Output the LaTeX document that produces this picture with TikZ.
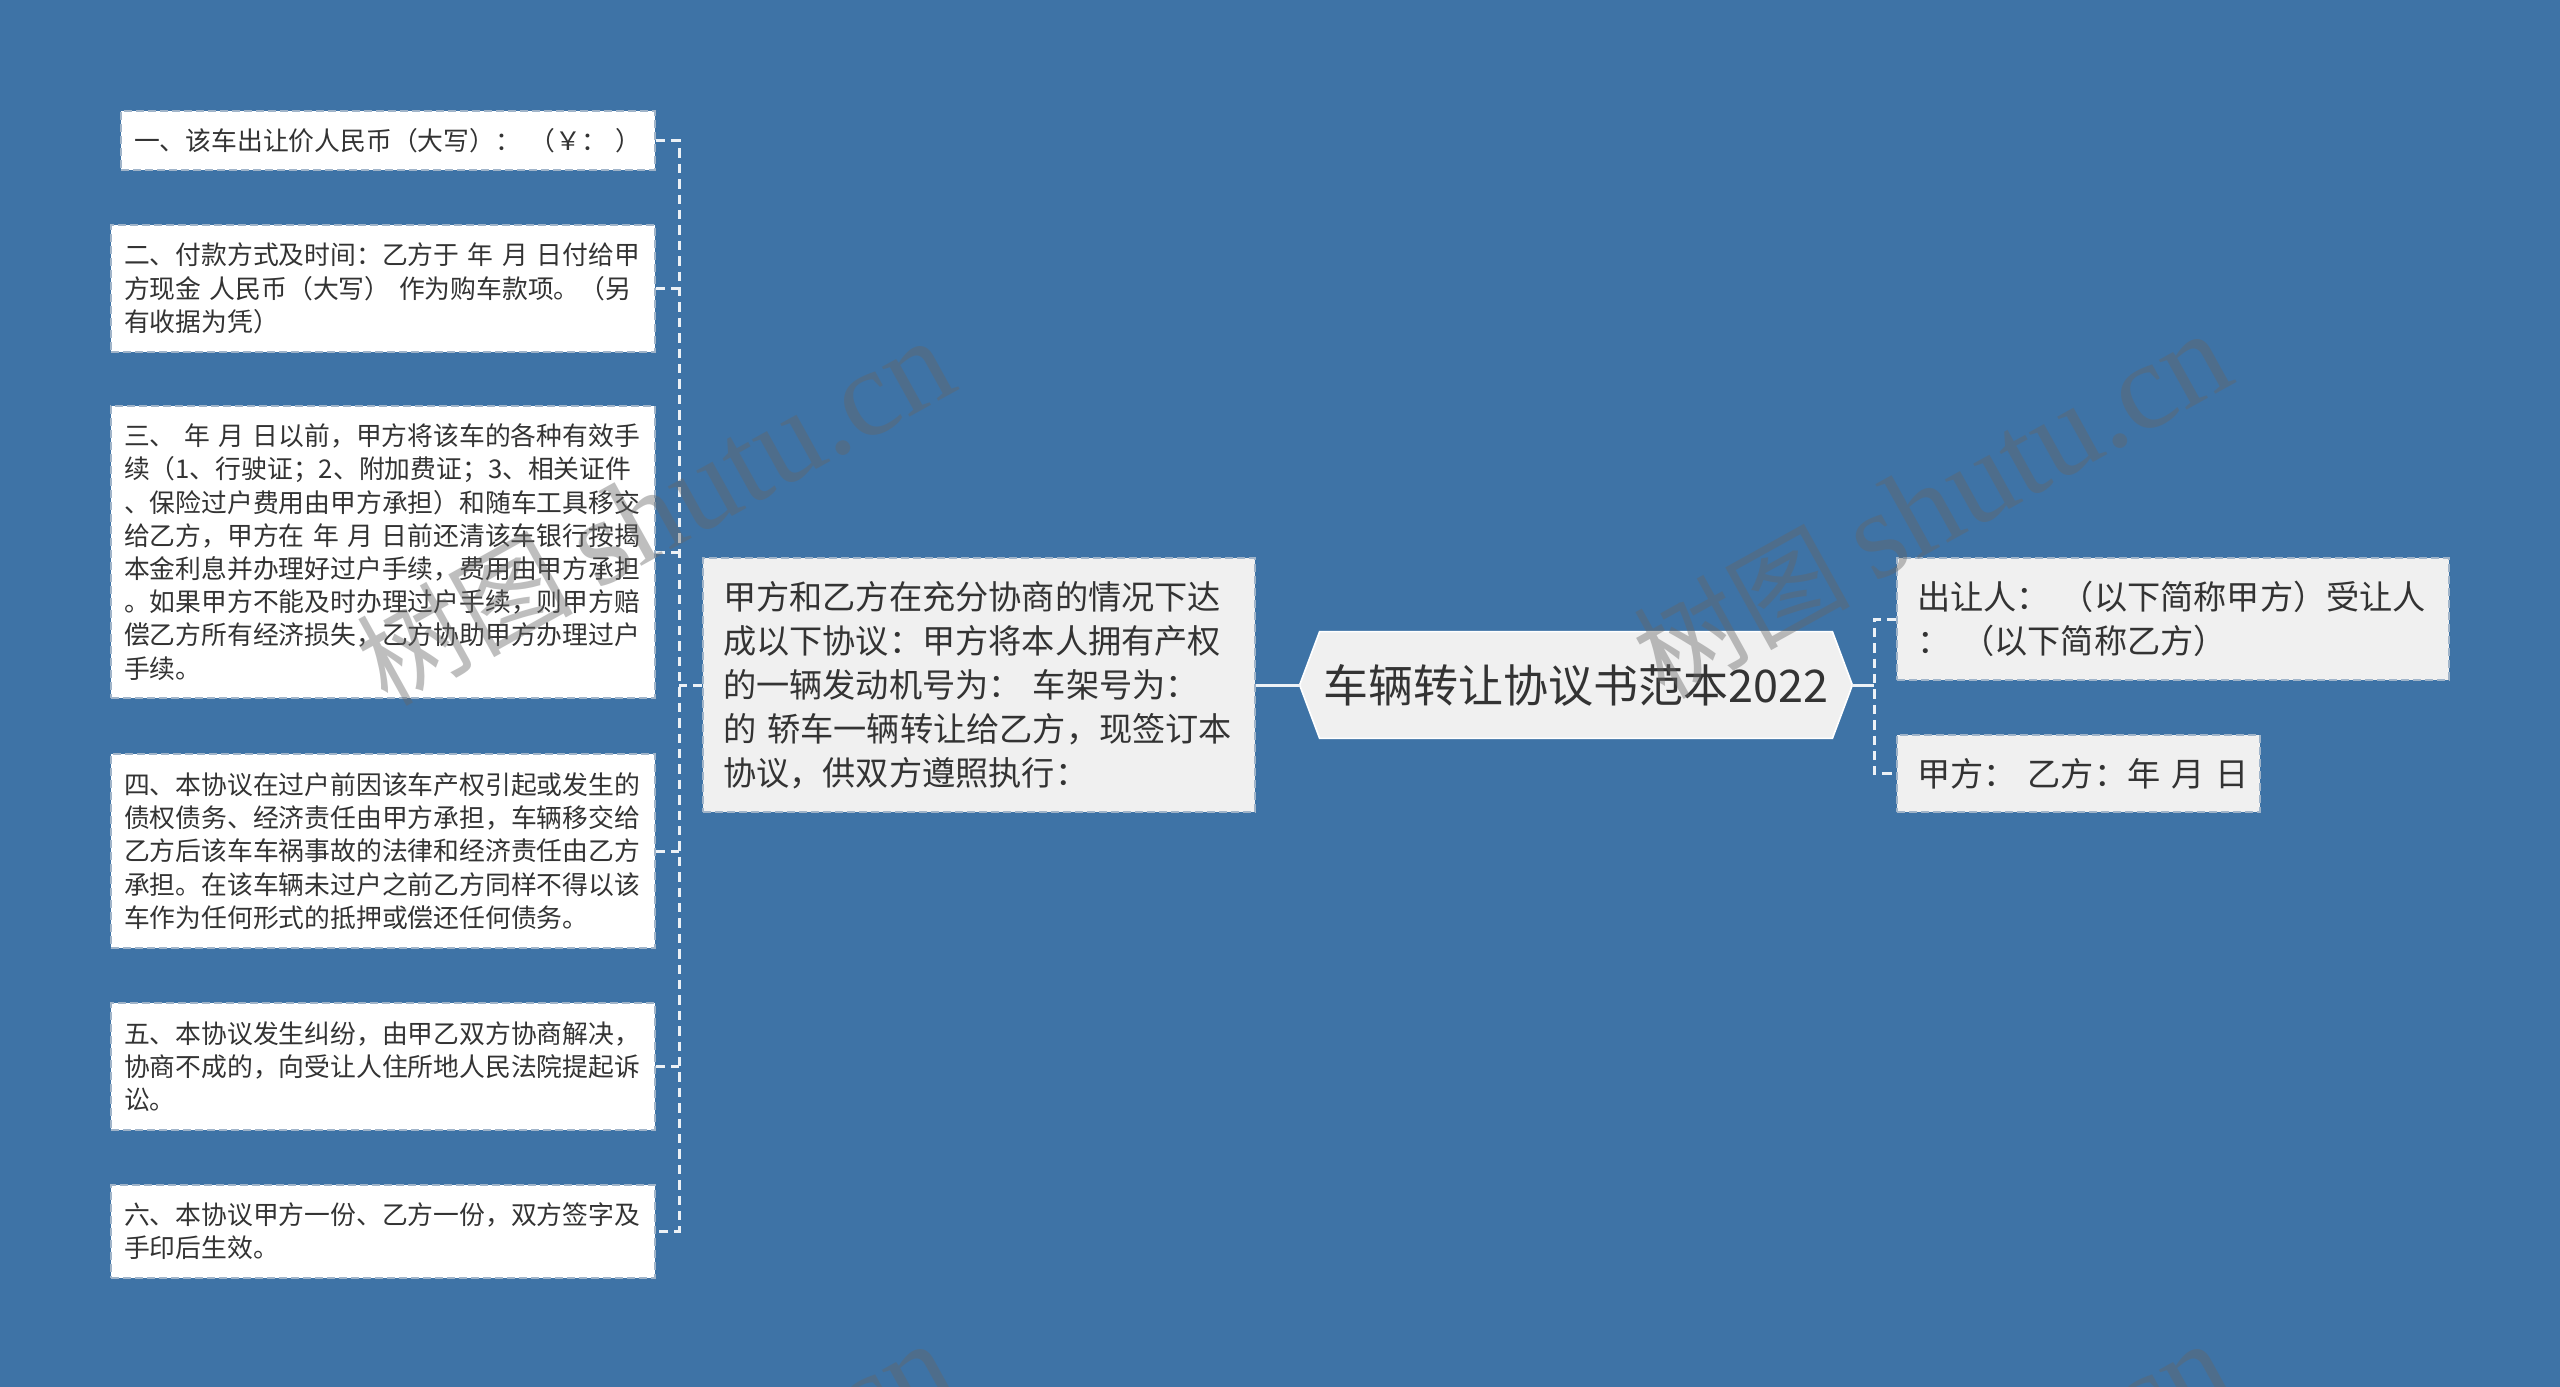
\documentclass[tikz,border=0pt]{standalone}
\usepackage{fontspec}
\setmainfont{Noto Sans CJK SC}
\newfontfamily\wmlatin{Liberation Serif}
\newfontfamily\wmcjk{Noto Sans CJK SC}
\definecolor{bgblue}{RGB}{62,115,166}
\definecolor{boxgray}{RGB}{240,240,240}
\definecolor{bordercol}{RGB}{160,180,201}
\definecolor{linecol}{RGB}{236,241,246}
\definecolor{txt}{RGB}{51,51,51}
\definecolor{wmcol}{RGB}{102,102,102}
\pgfdeclarelayer{bgl}
\pgfdeclarelayer{shp}
\pgfsetlayers{bgl,shp,main}
\tikzset{
  lbox/.style={draw=bordercol, fill=white, line width=1pt, dash pattern=on 4pt off 2pt,
    text width=259pt, inner xsep=6.5pt, inner ysep=0pt, align=left, text=txt,
    font=\fontsize{12.9pt}{16.6pt}\selectfont},
  gbox/.style={draw=bordercol, fill=boxgray, line width=1pt, dash pattern=on 4pt off 2pt,
    text width=256pt, inner xsep=10pt, inner ysep=0pt, align=left, text=txt,
    font=\fontsize{16.6pt}{22pt}\selectfont},
  rootbox/.style={draw=none, fill=none, minimum width=276pt, minimum height=53pt,
    inner sep=0pt, align=center, text=txt, font=\fontsize{22.5pt}{27pt}\selectfont},
  conn/.style={draw=linecol, line width=1.5pt},
  dconn/.style={draw=linecol, line width=1.5pt, dash pattern=on 4.7pt off 3pt},
  wm/.style={text=wmcol, text opacity=0.42, inner sep=0pt}
}
\newcommand{\wmtext}{\fontsize{54pt}{60pt}\wmcjk 树图\ \fontsize{62pt}{60pt}\wmlatin shutu.cn}
\begin{document}
\begin{tikzpicture}[x=0.5pt,y=-0.5pt]
\useasboundingbox (0,0) rectangle (2560,1387);
\begin{pgfonlayer}{bgl}
\fill[bgblue] (0,0) rectangle (2560,1387);
\end{pgfonlayer}

% root
\node[rootbox] (root) at (1576,685) {车辆转让协议书范本2022};
\begin{pgfonlayer}{shp}
\filldraw[fill=boxgray, draw=white, line width=0.8pt]
  (root.west) -- ([xshift=10pt]root.north west) -- ([xshift=-10pt]root.north east)
  -- (root.east) -- ([xshift=-10pt]root.south east) -- ([xshift=10pt]root.south west) -- cycle;
\end{pgfonlayer}

% middle
\node[gbox, minimum height=127pt] (M) at (979,685) {甲方和乙方在充分协商的情况下达\\
成以下协议：甲方将本人拥有产权\\
的一辆发动机号为：~车架号为：\\
的~轿车一辆转让给乙方，现签订本\\
协议，供双方遵照执行：};

% right
\node[gbox, minimum height=61pt] (R1) at (2173,619) {出让人：~（以下简称甲方）受让人\\
：~（以下简称乙方）};
\node[gbox, minimum height=38.5pt, text width=161.5pt] (R2) at (2078.5,773.5) {甲方：~乙方：年~月~日};

% left
\node[lbox, minimum height=29.5pt, text width=254pt] (B1) at (388,140.5) {一、该车出让价人民币（大写）：~（￥：~）};
\node[lbox, minimum height=63.5pt] (B2) at (383,288.5) {二、付款方式及时间：乙方于~年~月~日付给甲\\
方现金~人民币（大写）~作为购车款项。（另\\
有收据为凭）};
\node[lbox, minimum height=146pt] (B3) at (383,552) {三、~年~月~日以前，甲方将该车的各种有效手\\
续（1、行驶证；2、附加费证；3、相关证件\\
、保险过户费用由甲方承担）和随车工具移交\\
给乙方，甲方在~年~月~日前还清该车银行按揭\\
本金利息并办理好过户手续，费用由甲方承担\\
。如果甲方不能及时办理过户手续，则甲方赔\\
偿乙方所有经济损失，乙方协助甲方办理过户\\
手续。};
\node[lbox, minimum height=97pt] (B4) at (383,851) {四、本协议在过户前因该车产权引起或发生的\\
债权债务、经济责任由甲方承担，车辆移交给\\
乙方后该车车祸事故的法律和经济责任由乙方\\
承担。在该车辆未过户之前乙方同样不得以该\\
车作为任何形式的抵押或偿还任何债务。};
\node[lbox, minimum height=63.5pt] (B5) at (383,1066.5) {五、本协议发生纠纷，由甲乙双方协商解决，\\
协商不成的，向受让人住所地人民法院提起诉\\
讼。};
\node[lbox, minimum height=46.5pt] (B6) at (383,1231) {六、本协议甲方一份、乙方一份，双方签字及\\
手印后生效。};

% connectors right
\coordinate (jr) at (1874,685);
\draw[conn] (root.east) -- (jr);
\draw[dconn] (R1.west) -| (jr) |- (R2.west);

% connectors left
\coordinate (jl) at (679,685);
\draw[conn] (root.west) -- (M.east);
\draw[dconn] (M.west) -- (jl);
\draw[dconn] (B1.east) -| (jl) |- (B6.east);
\foreach \b in {B2,B3,B4,B5} \draw[dconn] (\b.east) -- (\b.east -| jl);

% watermarks
\begin{scope}
\clip (0,0) rectangle (2560,1387);
\node[wm, rotate=29] (wm1) at (655,512) {\wmtext};
\node[wm, rotate=29] (wm2) at (1932,505) {\wmtext};
\node[wm, rotate=29] (wm3) at (655,1515) {\wmtext};
\node[wm, rotate=29] (wm4) at (1932,1515) {\wmtext};
\end{scope}
\end{tikzpicture}
\end{document}
